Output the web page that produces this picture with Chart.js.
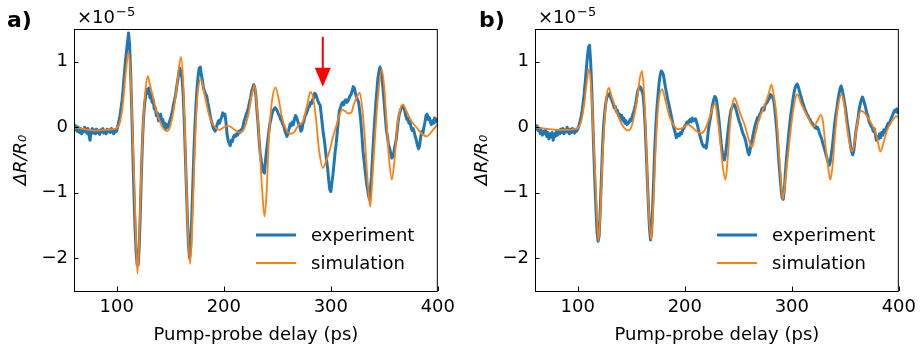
<!DOCTYPE html>
<html>
<head>
<meta charset="utf-8">
<script src="https://cdn.jsdelivr.net/npm/chart.js@4.4.1/dist/chart.umd.min.js"></script>
<style>
  body { margin: 0; background: #fff; }
  #wrap { position: relative; width: 922px; height: 346px; }
  #wrap canvas { position: absolute; top: 0; }
</style>
</head>
<body>
<div id="wrap">
  <canvas id="panelA" width="461" height="346" style="left:0"></canvas>
  <canvas id="panelB" width="461" height="346" style="left:461px"></canvas>
</div>
<script>
// Delay axis ticks (ps) and signal ticks (units of 1e-5)
const delayTicks = [100, 200, 300, 400];
const signalTicks = [-2, -1, 0, 1];

// Panel a) measured trace
const expDelayA = [60,61,62,63,64,65,66,67,68,69,70,71,72,73,74,75,76,77,78,79,80,81,82,83,84,85,86,87,88,89,90,91,92,93,94,95,96,97,98,99,100,101,102,103,104,105,106,107,108,109,110,111,112,113,114,115,116,117,118,119,120,121,122,123,124,125,126,127,128,129,130,131,132,133,134,135,136,137,138,139,140,141,142,143,144,145,146,147,148,149,150,151,152,153,154,155,156,157,158,159,160,161,162,163,164,165,166,167,168,169,170,171,172,173,174,175,176,177,178,179,180,181,182,183,184,185,186,187,188,189,190,191,192,193,194,195,196,197,198,199,200,201,202,203,204,205,206,207,208,209,210,211,212,213,214,215,216,217,218,219,220,221,222,223,224,225,226,227,228,229,230,231,232,233,234,235,236,237,238,239,240,241,242,243,244,245,246,247,248,249,250,251,252,253,254,255,256,257,258,259,260,261,262,263,264,265,266,267,268,269,270,271,272,273,274,275,276,277,278,279,280,281,282,283,284,285,286,287,288,289,290,291,292,293,294,295,296,297,298,299,300,301,302,303,304,305,306,307,308,309,310,311,312,313,314,315,316,317,318,319,320,321,322,323,324,325,326,327,328,329,330,331,332,333,334,335,336,337,338,339,340,341,342,343,344,345,346,347,348,349,350,351,352,353,354,355,356,357,358,359,360,361,362,363,364,365,366,367,368,369,370,371,372,373,374,375,376,377,378,379,380,381,382,383,384,385,386,387,388,389,390,391,392,393,394,395,396,397,398,399,400];
const expSignalA = [0.05,-0.04,0.02,-0.06,0.0,-0.08,-0.02,-0.1,-0.04,-0.07,0.0,-0.05,-0.09,-0.02,-0.12,-0.2,-0.06,-0.02,-0.09,-0.04,-0.1,-0.03,-0.08,-0.05,-0.11,-0.04,-0.07,-0.02,-0.09,-0.05,-0.1,-0.03,-0.07,-0.04,-0.08,-0.02,-0.06,-0.1,-0.04,-0.07,-0.05,0.02,0.1,0.18,0.3,0.42,0.6,0.8,1.0,1.15,1.3,1.44,1.25,0.8,0.25,-0.4,-1.0,-1.5,-1.9,-2.1,-2.1,-1.8,-1.3,-0.7,-0.2,0.15,0.35,0.48,0.58,0.52,0.6,0.45,0.5,0.38,0.42,0.28,0.3,0.18,0.22,0.1,0.14,0.2,0.08,0.12,0.0,0.06,-0.02,0.04,0.0,0.08,0.12,0.18,0.25,0.35,0.42,0.5,0.62,0.72,0.85,0.9,0.82,0.75,0.5,0.1,-0.4,-0.9,-1.4,-1.8,-2.0,-1.85,-1.4,-0.9,-0.4,0.0,0.35,0.6,0.78,0.9,0.92,0.8,0.72,0.6,0.55,0.5,0.48,0.38,0.3,0.2,0.12,0.06,0.0,-0.04,-0.06,0.0,0.05,0.1,0.06,0.12,0.15,0.22,0.18,0.2,0.08,-0.1,-0.2,-0.25,-0.28,-0.2,-0.22,-0.15,-0.12,-0.14,-0.1,-0.12,-0.06,-0.08,-0.04,-0.05,0.02,0.1,0.14,0.2,0.24,0.3,0.38,0.45,0.55,0.6,0.65,0.6,0.48,0.25,0.05,-0.2,-0.4,-0.52,-0.6,-0.68,-0.7,-0.5,-0.35,-0.22,-0.08,0.05,0.12,0.2,0.25,0.28,0.3,0.28,0.25,0.2,0.18,0.12,0.1,0.05,0.02,-0.05,-0.1,-0.14,-0.1,-0.02,0.05,0.02,0.08,0.04,0.12,0.18,0.15,0.1,0.04,0.02,-0.06,-0.04,0.06,0.1,0.18,0.2,0.25,0.3,0.32,0.38,0.36,0.42,0.45,0.52,0.5,0.45,0.4,0.36,0.34,0.2,0.05,-0.1,-0.2,-0.35,-0.5,-0.62,-0.8,-0.95,-0.98,-0.85,-0.72,-0.55,-0.38,-0.25,-0.08,0.1,0.25,0.3,0.35,0.38,0.34,0.4,0.42,0.38,0.4,0.44,0.48,0.5,0.56,0.62,0.6,0.52,0.46,0.42,0.38,0.25,0.1,-0.1,-0.35,-0.5,-0.65,-0.8,-0.92,-1.02,-1.1,-0.95,-0.75,-0.45,-0.15,0.1,0.35,0.55,0.75,0.85,0.92,0.85,0.72,0.55,0.35,0.15,-0.05,-0.15,-0.28,-0.32,-0.4,-0.47,-0.45,-0.38,-0.28,-0.2,-0.05,0.1,0.2,0.25,0.3,0.32,0.3,0.26,0.18,0.12,0.14,0.06,0.08,0.0,-0.05,-0.02,-0.08,-0.15,-0.2,-0.28,-0.33,-0.28,-0.15,-0.06,-0.1,0.0,0.08,0.18,0.2,0.12,0.15,0.08,0.04,0.1,0.06,0.14,0.08,0.12,0.1];

// Panel a) simulated trace
const simDelayA = [60,70,80,90,97,100,103,106,108.5,111,113,115,117,119.3,121,123,125,127,129,131,134,137,141,144,147,150,153,156,158,160,162,164,166,168.5,170.5,172.5,175,178.8,182,186,190,196,200,204,208,212,215.5,219,223,226,228.7,231,233.5,236,238,240,242,245,248.3,251,254,258,262,266,270,274,278,281,283.5,286,289,292.5,296,299,302,305.5,308,310.5,313,316.5,319,321.5,324,327,329,331.5,334,336.8,339,341.5,344,347.5,350,352,354.5,357,359.5,362,364.8,367.5,370,375,380,384,389.5,394,400];
const simSignalA = [0.0,-0.03,-0.05,-0.04,-0.03,-0.01,0.08,0.4,0.85,1.15,0.75,-0.2,-1.2,-2.24,-1.7,-0.6,0.15,0.6,0.78,0.65,0.45,0.25,0.06,-0.03,-0.06,0.02,0.25,0.6,0.9,1.07,0.7,-0.3,-1.4,-2.09,-1.5,-0.5,0.4,0.73,0.5,0.2,0.04,-0.04,0.0,0.02,-0.01,-0.06,-0.08,-0.02,0.2,0.48,0.64,0.3,-0.3,-1.0,-1.36,-1.0,-0.2,0.4,0.61,0.45,0.18,-0.03,-0.1,-0.07,0.04,0.09,0.35,0.54,0.45,0.15,-0.35,-0.62,-0.5,-0.35,-0.15,0.04,0.18,0.27,0.25,0.21,0.22,0.35,0.45,0.53,0.35,-0.1,-0.73,-1.21,-0.75,-0.1,0.45,0.88,0.6,0.1,-0.5,-0.8,-0.5,0.0,0.27,0.35,0.27,0.1,0.0,-0.08,-0.14,-0.07,0.05];

// Panel b) measured trace (same delay sampling as panel a)
const expDelayB = expDelayA;
const expSignalB = [0.05,-0.03,0.02,-0.05,-0.02,-0.1,-0.05,-0.12,-0.06,-0.1,-0.04,-0.14,-0.08,-0.18,-0.1,-0.15,-0.08,-0.2,-0.1,-0.14,-0.06,-0.12,-0.05,-0.1,-0.03,-0.08,-0.02,-0.1,-0.04,-0.07,0.0,-0.06,-0.1,-0.03,-0.08,-0.02,-0.05,-0.09,-0.03,-0.06,-0.02,0.02,0.08,0.15,0.25,0.38,0.52,0.7,0.9,1.08,1.22,1.25,1.0,0.6,0.1,-0.4,-0.85,-1.25,-1.6,-1.74,-1.65,-1.25,-0.8,-0.35,0.0,0.2,0.35,0.45,0.5,0.48,0.52,0.44,0.4,0.36,0.3,0.32,0.24,0.26,0.18,0.2,0.14,0.18,0.1,0.14,0.06,0.1,0.04,0.06,0.08,0.12,0.1,0.18,0.22,0.28,0.35,0.45,0.55,0.6,0.62,0.6,0.55,0.5,0.3,0.0,-0.4,-0.8,-1.2,-1.55,-1.72,-1.6,-1.2,-0.75,-0.3,0.05,0.3,0.5,0.68,0.8,0.86,0.84,0.8,0.7,0.6,0.52,0.42,0.36,0.28,0.2,0.12,0.04,-0.02,-0.08,-0.16,-0.14,-0.1,-0.13,-0.08,-0.1,-0.04,-0.02,0.02,0.04,0.08,0.06,0.1,0.12,0.08,0.14,0.12,0.1,0.13,0.08,0.02,-0.06,-0.12,-0.18,-0.24,-0.28,-0.3,-0.28,-0.32,-0.2,-0.05,0.06,0.15,0.25,0.35,0.42,0.47,0.45,0.38,0.25,0.1,-0.08,-0.25,-0.38,-0.45,-0.5,-0.42,-0.28,-0.12,0.02,0.15,0.25,0.3,0.33,0.35,0.32,0.26,0.2,0.14,0.08,0.04,-0.02,-0.08,-0.12,-0.16,-0.22,-0.3,-0.38,-0.42,-0.35,-0.25,-0.18,-0.1,-0.02,0.05,0.1,0.15,0.12,0.2,0.22,0.28,0.3,0.26,0.34,0.36,0.38,0.42,0.44,0.5,0.48,0.46,0.42,0.3,0.12,-0.05,-0.3,-0.55,-0.75,-0.95,-1.08,-1.1,-0.95,-0.7,-0.48,-0.3,-0.12,0.04,0.18,0.3,0.42,0.52,0.6,0.64,0.66,0.62,0.56,0.5,0.45,0.38,0.34,0.28,0.25,0.2,0.18,0.14,0.12,0.08,0.06,0.04,0.0,0.02,-0.02,0.0,-0.04,-0.1,-0.14,-0.18,-0.25,-0.3,-0.36,-0.42,-0.48,-0.55,-0.58,-0.52,-0.4,-0.28,-0.12,0.05,0.18,0.28,0.4,0.5,0.58,0.63,0.58,0.5,0.4,0.3,0.18,0.05,-0.05,-0.18,-0.3,-0.38,-0.42,-0.35,-0.2,-0.05,0.05,0.15,0.28,0.36,0.42,0.46,0.42,0.36,0.3,0.22,0.18,0.1,0.06,0.02,0.0,-0.06,-0.02,-0.1,-0.2,-0.14,-0.18,-0.1,-0.16,-0.08,-0.12,-0.04,-0.08,-0.02,0.02,0.06,0.04,0.1,0.14,0.18,0.22,0.26,0.24,0.28,0.22,0.25];

// Panel b) simulated trace
const simDelayB = [60,70,80,90,97,100,103,106,108.5,110.5,112.5,114.5,117,119.3,121,123,125,127,129,131,134,137,141,144,147,150,153,156,158,160,162,164,166,168.5,170.5,172.5,175,178.8,182,186,190,194,199,203,207,211,215.5,219,223,226,228.5,230.5,233,235.5,238,240,242.3,244.5,246.5,249,252,256,260,263,266,269,275,278.5,281,283,285.5,288.4,291.5,294,296.8,300,302.5,305,309,315.5,320.2,324,327,329,331,333.5,336,338,340.4,343,346.6,349,351.3,354,356.5,359,361,364.7,368,372,376.2,379.5,382.8,386,389,393.4,398,400];
const simSignalB = [0.0,-0.02,-0.04,-0.04,-0.03,-0.01,0.08,0.35,0.7,0.89,0.6,-0.1,-1.0,-1.73,-1.35,-0.5,0.1,0.48,0.6,0.5,0.35,0.2,0.05,-0.02,-0.05,0.0,0.2,0.5,0.75,0.86,0.5,-0.3,-1.2,-1.71,-1.2,-0.4,0.3,0.58,0.4,0.15,0.02,-0.03,0.0,0.04,0.0,-0.06,-0.09,-0.03,0.14,0.3,0.36,0.15,-0.2,-0.6,-0.8,-0.5,0.04,0.35,0.45,0.35,0.2,0.03,-0.2,-0.3,-0.1,0.1,0.35,0.52,0.65,0.5,0.2,-0.47,-1.1,-0.8,-0.37,0.1,0.38,0.5,0.35,0.14,0.01,0.1,0.19,0.1,-0.21,-0.55,-0.8,-0.6,-0.11,0.3,0.5,0.35,0.04,-0.25,-0.37,-0.2,0.05,0.25,0.22,0.12,0.0,-0.15,-0.37,-0.22,-0.05,0.09,0.17,0.14];

// Marker arrow in panel a): delay and signal span (tail, head base, tip)
const arrowA = { delay: 292.5, tail: 1.38, headBase: 0.91, tip: 0.62 };

const FONT = 'DejaVu Sans';
const BLUE = '#1f77b4';
const ORANGE = '#ff7f0e';

function toPairs(xs, ys) {
  return xs.map((x, i) => ({ x: x, y: ys[i] }));
}

// Frame, inward ticks, axis label, exponent label, panel tag, legend and arrow
const decorations = {
  id: 'decorations',
  afterDraw(chart, args, opts) {
    const ctx = chart.ctx;
    const area = chart.chartArea;
    const xs = chart.scales.x, ys = chart.scales.y;
    ctx.save();
    ctx.strokeStyle = '#000';
    ctx.lineWidth = 1;
    ctx.strokeRect(area.left + 0.5, area.top + 0.5, area.right - area.left - 1, area.bottom - area.top);
    ctx.beginPath();
    delayTicks.forEach(v => {
      const px = Math.round(xs.getPixelForValue(v)) + 0.5;
      ctx.moveTo(px, area.bottom);
      ctx.lineTo(px, area.bottom - 4.5);
    });
    signalTicks.forEach(v => {
      const py = Math.round(ys.getPixelForValue(v)) + 0.5;
      ctx.moveTo(area.left, py);
      ctx.lineTo(area.left + 4.5, py);
    });
    ctx.stroke();

    // Signal axis label, rotated
    ctx.save();
    ctx.translate(21, (area.top + area.bottom) / 2);
    ctx.rotate(-Math.PI / 2);
    ctx.fillStyle = '#000';
    ctx.textAlign = 'center';
    ctx.textBaseline = 'middle';
    ctx.font = 'italic 18px "' + FONT + '"';
    ctx.fillText('ΔR/R₀', 0, 0);
    ctx.restore();

    // Offset label for the signal axis
    ctx.fillStyle = '#000';
    ctx.textBaseline = 'alphabetic';
    ctx.textAlign = 'left';
    ctx.font = '18px "' + FONT + '"';
    ctx.fillText('×10', area.left + 3, 23);
    const w = ctx.measureText('×10').width;
    ctx.font = '13px "' + FONT + '"';
    ctx.fillText('−5', area.left + 3 + w + 1, 16);

    // Panel tag
    ctx.font = 'bold 22px "' + FONT + '"';
    ctx.fillText(opts.tag, opts.tagX, 27);

    // Legend
    const entries = [
      { label: 'experiment', color: BLUE, width: 3 },
      { label: 'simulation', color: ORANGE, width: 2 }
    ];
    entries.forEach((e, i) => {
      const y = 235 + i * 28;
      ctx.beginPath();
      ctx.strokeStyle = e.color;
      ctx.lineWidth = e.width;
      ctx.moveTo(256, y);
      ctx.lineTo(296, y);
      ctx.stroke();
      ctx.fillStyle = '#000';
      ctx.font = '18px "' + FONT + '"';
      ctx.textBaseline = 'middle';
      ctx.fillText(e.label, 311, y + 1);
    });

    // Arrow
    if (opts.arrow) {
      const a = opts.arrow;
      const ax = xs.getPixelForValue(a.delay);
      const yTail = ys.getPixelForValue(a.tail);
      const yBase = ys.getPixelForValue(a.headBase);
      const yTip = ys.getPixelForValue(a.tip);
      ctx.strokeStyle = '#ff0000';
      ctx.fillStyle = '#ff0000';
      ctx.lineWidth = 2;
      ctx.beginPath();
      ctx.moveTo(ax, yTail);
      ctx.lineTo(ax, yBase + 2);
      ctx.stroke();
      ctx.beginPath();
      ctx.moveTo(ax - 8, yBase);
      ctx.lineTo(ax + 8, yBase);
      ctx.lineTo(ax, yTip);
      ctx.closePath();
      ctx.fill();
    }
    ctx.restore();
  }
};

function makePanel(id, tag, tagX, expT, expY, simT, simY, arrow) {
  return new Chart(document.getElementById(id), {
    type: 'line',
    data: {
      datasets: [
        {
          label: 'experiment',
          data: toPairs(expT, expY),
          borderColor: BLUE,
          borderWidth: 3,
          pointRadius: 0,
          tension: 0,
          borderJoinStyle: 'round',
          order: 2
        },
        {
          label: 'simulation',
          data: toPairs(simT, simY),
          borderColor: ORANGE,
          borderWidth: 1.8,
          pointRadius: 0,
          cubicInterpolationMode: 'monotone',
          order: 1
        }
      ]
    },
    options: {
      responsive: false,
      animation: false,
      devicePixelRatio: 1,
      layout: { padding: { top: 29, right: 23, bottom: 0, left: 0 } },
      plugins: {
        legend: { display: false },
        tooltip: { enabled: false },
        decorations: { tag: tag, tagX: tagX, arrow: arrow }
      },
      scales: {
        x: {
          type: 'linear',
          min: 60,
          max: 400,
          afterBuildTicks: s => { s.ticks = delayTicks.map(v => ({ value: v })); },
          afterFit: s => { s.height = 55; },
          grid: { display: false, drawTicks: false },
          border: { display: false },
          ticks: {
            color: '#000',
            font: { family: FONT, size: 18 },
            padding: 6,
            maxRotation: 0,
            autoSkip: false
          },
          title: {
            display: true,
            text: 'Pump-probe delay (ps)',
            color: '#000',
            font: { family: FONT, size: 18 },
            padding: { top: 0, bottom: 0 }
          }
        },
        y: {
          type: 'linear',
          min: -2.5,
          max: 1.5,
          afterBuildTicks: s => { s.ticks = signalTicks.map(v => ({ value: v })); },
          afterFit: s => { s.width = 74; },
          grid: { display: false, drawTicks: false },
          border: { display: false },
          ticks: {
            color: '#000',
            font: { family: FONT, size: 18 },
            padding: 6,
            callback: v => (v < 0 ? '−' + Math.abs(v) : String(v))
          },
          title: { display: false }
        }
      }
    },
    plugins: [decorations]
  });
}

makePanel('panelA', 'a)', 7, expDelayA, expSignalA, simDelayA, simSignalA, arrowA);
makePanel('panelB', 'b)', 18, expDelayB, expSignalB, simDelayB, simSignalB, null);
</script>
</body>
</html>
